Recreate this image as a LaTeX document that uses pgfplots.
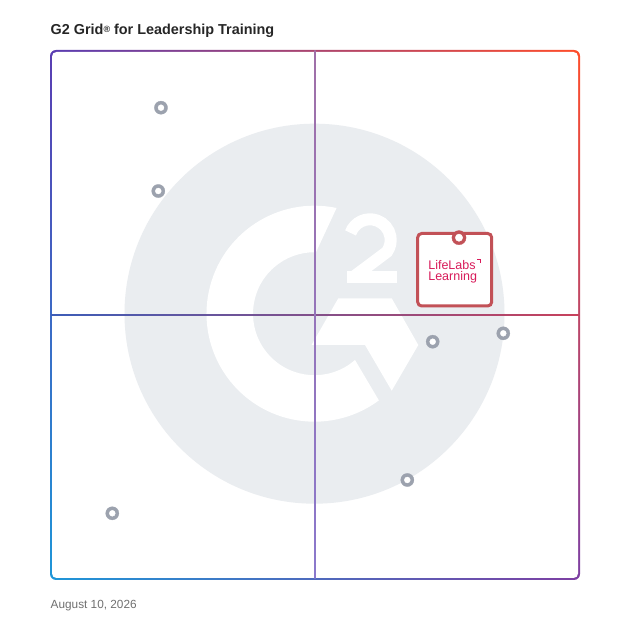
\documentclass[border=0pt]{standalone}
\usepackage{pgfplots}
\pgfplotsset{compat=1.18}
\usepackage{fontspec}
\setmainfont{Liberation Sans}
\usetikzlibrary{shadings}
\definecolor{titlec}{HTML}{262626}
\definecolor{datec}{HTML}{6F6F6F}
\definecolor{fTL}{HTML}{5A3DB2}
\definecolor{fTR}{HTML}{FF4D2A}
\definecolor{fBL}{HTML}{1E96D8}
\definecolor{fBR}{HTML}{7D3FA3}
\definecolor{logogray}{HTML}{EAEDF0}
\definecolor{hL}{HTML}{3D5DB8}
\definecolor{hR}{HTML}{C8425C}
\definecolor{vT}{HTML}{A070A8}
\definecolor{vB}{HTML}{8A78CC}
\definecolor{ptgray}{HTML}{9CA2AE}
\definecolor{llred}{HTML}{C25157}
\definecolor{lltext}{HTML}{D81B5A}
\newcommand{\llabel}{\rule{0pt}{13pt}LifeLabs\kern1.5pt\rule[9.6pt]{4pt}{0.9pt}\kern-0.9pt\rule[6pt]{0.9pt}{4.5pt}\\Learning}
\begin{document}
\begin{tikzpicture}[x=1pt,y=1pt]
\path[use as bounding box] (0,0) rectangle (628,628);
% title and date
\node[anchor=base west, inner sep=0pt, text=titlec, font=\fontsize{14.4}{15}\selectfont\bfseries] at (50.5,593) {G2 Grid\raisebox{2.5pt}{\fontsize{9}{9}\selectfont\bfseries ®} for Leadership Training};
\node[anchor=base west, inner sep=0pt, text=datec, font=\fontsize{11.8}{12}\selectfont] at (50.5,19.8) {August 10, 2026};
% gradient frame
\shade[upper left=fTL, upper right=fTR, lower left=fBL, lower right=fBR, rounded corners=6] (50,48) rectangle (580,578);
\fill[white, rounded corners=4.5] (52,50) rectangle (578,576);
% background logo
\coordinate (O) at (314.5,314.3);
\fill[logogray] (O) circle[radius=190];
\fill[white] ([shift={(78.2:108)}]O) arc[start angle=78.2, end angle=306.6, radius=108] -- ([shift={(311.2:61.5)}]O) arc[start angle=311.2, end angle=88.6, radius=61.5] -- cycle;
\fill[white] (338.3,329.7) -- (391.7,329.7) -- (418.3,283) -- (391.7,237.3) -- (365,283) -- (311.5,283) -- cycle;
\coordinate (T) at (370,388);
\draw[white, line width=12] ([shift={(160:20.7)}]T) arc[start angle=160, end angle=-35, radius=20.7] -- (353,350.7);
\fill[white] (346.7,344.7) rectangle (396.7,356.7);
% crosshair
\shade[left color=hL, right color=hR] (51,312.35) rectangle (579,313.65);
\shade[top color=vT, bottom color=vB] (314.35,49) rectangle (315.65,577);
\begin{axis}[at={(51pt,49pt)}, anchor=south west, scale only axis,
  width=528pt, height=528pt, xmin=0, xmax=100, ymin=0, ymax=100,
  hide axis, clip=false]
\pgfplotstableread{
x y
20.83 89.26
20.32 73.48
72.29 44.94
85.66 46.53
67.48 18.75
11.61 12.44
}\others
\addplot[only marks, mark=*, mark size=6.6pt, color=ptgray,
  mark options={color=ptgray, line width=0.3pt}] table[x=x,y=y] {\others};
\addplot[only marks, mark=*, mark size=3pt, color=white,
  mark options={color=white, line width=0.3pt}] table[x=x,y=y] {\others};
\addplot[draw=none, mark=none, nodes near coords={\llabel},
  every node near coord/.style={anchor=north, xshift=-4.3pt, yshift=4.2pt,
    draw=llred, line width=3pt, fill=white, rounded corners=4pt,
    minimum width=74pt, minimum height=72.5pt, outer sep=0pt, inner sep=0pt,
    align=left, text=lltext, font=\fontsize{12.5}{11.8}\selectfont}]
  coordinates {(77.27,64.64)};
\addplot[only marks, mark=*, mark size=7.1pt, color=llred,
  mark options={color=llred, line width=0.3pt}]
  coordinates {(77.27,64.64)};
\addplot[only marks, mark=*, mark size=3.7pt, color=white,
  mark options={color=white, line width=0.3pt}]
  coordinates {(77.27,64.64)};
\end{axis}
\end{tikzpicture}
\end{document}
